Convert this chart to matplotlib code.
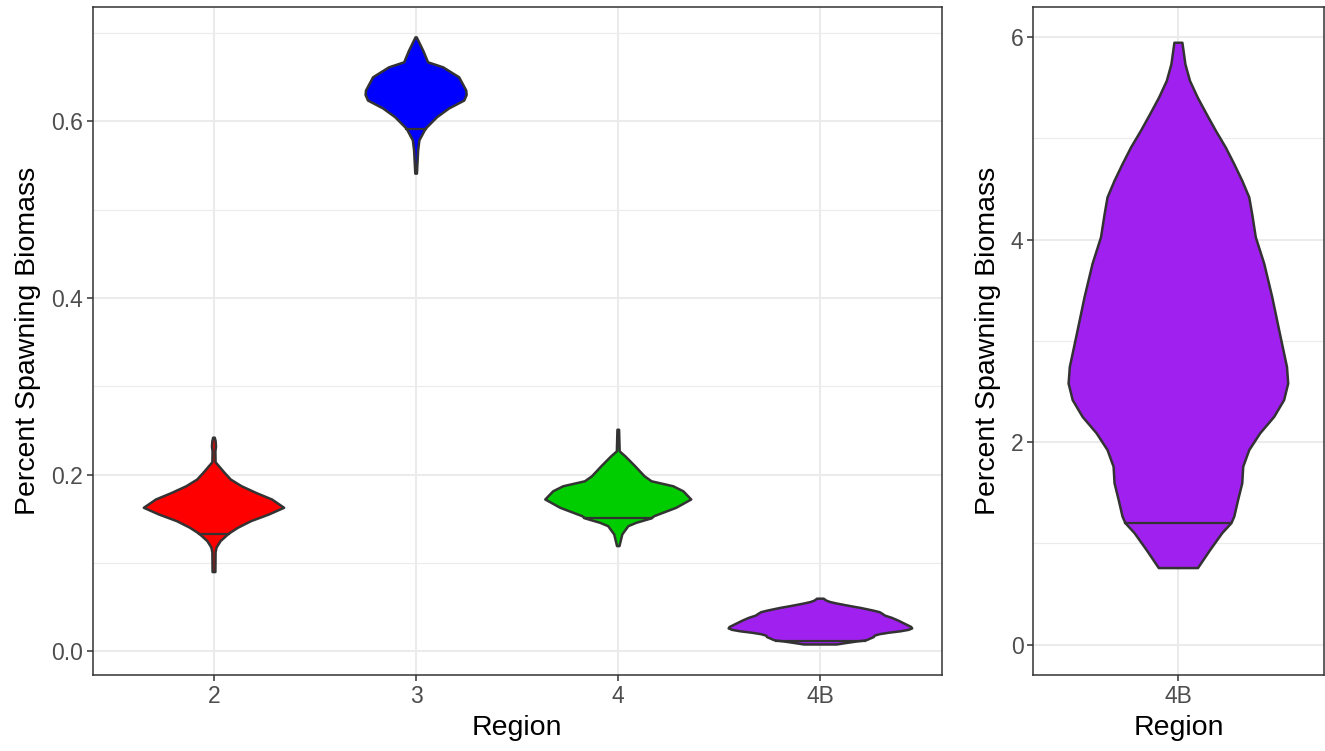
import numpy as np
import matplotlib.pyplot as plt

plt.rcParams["font.family"] = ["Liberation Sans", "DejaVu Sans"]

# Regions and fills
regions = ["2", "3", "4", "4B"]
fills   = ["#FF0000", "#0000FF", "#00CD00", "#A020F0"]

# Violin outlines:
# value (percent spawning biomass) and half width (in category units)
r2_y = [0.0896, 0.112, 0.1175, 0.1247, 0.133, 0.1398, 0.1472, 0.1548, 0.1624,
        0.1718, 0.1793, 0.1868, 0.1944, 0.2019, 0.2094, 0.214, 0.226, 0.232,
        0.238, 0.2418]
r2_w = [0.007, 0.008, 0.013, 0.033, 0.073, 0.119, 0.183, 0.272, 0.347,
        0.287, 0.208, 0.137, 0.083, 0.053, 0.025, 0.008, 0.007, 0.010,
        0.008, 0.004]

r3_y = [0.5409, 0.5672, 0.5785, 0.5918, 0.6049, 0.6147, 0.6237, 0.630, 0.635,
        0.650, 0.6613, 0.667, 0.6802, 0.6952]
r3_w = [0.004, 0.010, 0.016, 0.047, 0.104, 0.163, 0.238, 0.250, 0.248,
        0.213, 0.134, 0.059, 0.035, 0.003]

r4_y = [0.119, 0.1322, 0.1416, 0.1454, 0.1503, 0.1529, 0.1624, 0.1718, 0.1811,
        0.1868, 0.1924, 0.1981, 0.2094, 0.2207, 0.2263, 0.2508]
r4_w = [0.006, 0.020, 0.050, 0.090, 0.163, 0.178, 0.287, 0.361, 0.322,
        0.272, 0.165, 0.130, 0.084, 0.035, 0.007, 0.004]

# 4B (left panel shows the same values / 100)
r4b_y = [0.756, 0.936, 1.100, 1.199, 1.264, 1.429, 1.593, 1.757, 1.921, 2.086,
         2.249, 2.414, 2.578, 2.742, 3.09, 3.432, 3.761, 4.023, 4.253, 4.417,
         4.581, 4.745, 4.909, 5.074, 5.238, 5.402, 5.567, 5.731, 5.944]
r4b_w = [0.081, 0.132, 0.181, 0.219, 0.231, 0.247, 0.264, 0.268, 0.293, 0.338,
         0.396, 0.437, 0.454, 0.449, 0.418, 0.388, 0.355, 0.320, 0.305, 0.293,
         0.264, 0.231, 0.196, 0.155, 0.117, 0.080, 0.048, 0.029, 0.0165]
scale_4b = 100.0

# quantile lines drawn in each violin
q_lines = [0.133, 0.592, 0.151, 0.012]

edge = "#333333"


def draw_violin(ax, x, ys, ws, q, color):
    ys = np.asarray(ys)
    ws = np.asarray(ws)
    xs = np.concatenate([x - ws, (x + ws)[::-1]])
    yy = np.concatenate([ys, ys[::-1]])
    ax.fill(xs, yy, facecolor=color, edgecolor=edge, lw=1.8,
            joinstyle="round", zorder=3)
    hw = np.interp(q, ys, ws)
    ax.plot([x - hw, x + hw], [q, q], color=edge, lw=1.6, zorder=4)


def style_bw(ax, major, minor):
    ax.set_yticks(major)
    ax.set_yticks(minor, minor=True)
    ax.grid(which="major", color="#EBEBEB", lw=1.5, zorder=0)
    ax.grid(which="minor", axis="y", color="#EBEBEB", lw=0.8, zorder=0)
    ax.set_axisbelow(True)
    for sp in ax.spines.values():
        sp.set_color("#333333")
        sp.set_linewidth(1.1)
    ax.tick_params(which="major", colors="#333333", length=4, width=1.1,
                   labelsize=16.5, labelcolor="#4D4D4D", pad=3)
    ax.tick_params(which="minor", length=0)
    ax.set_xlabel("Region", fontsize=20.5, labelpad=5)
    ax.set_ylabel("Percent Spawning Biomass", fontsize=20.5, labelpad=7)


fig = plt.figure(figsize=(13.25, 7.51), dpi=100)
ax1 = fig.add_axes([0.06996, 0.10120, 0.64075, 0.88988])
ax2 = fig.add_axes([0.77985, 0.10120, 0.21902, 0.88988])

profiles = [(r2_y, r2_w), (r3_y, r3_w), (r4_y, r4_w),
            (np.array(r4b_y) / scale_4b, r4b_w)]
for i, (ys, ws) in enumerate(profiles):
    draw_violin(ax1, i + 1, ys, ws, q_lines[i], fills[i])

ax1.set_xlim(0.4, 4.6)
ax1.set_ylim(-0.027, 0.73)
ax1.set_xticks(range(1, 5))
ax1.set_xticklabels(regions)
style_bw(ax1, [0.0, 0.2, 0.4, 0.6], [0.1, 0.3, 0.5, 0.7])
ax1.set_yticklabels(["0.0", "0.2", "0.4", "0.6"])

draw_violin(ax2, 1, r4b_y, r4b_w, q_lines[3] * scale_4b, fills[3])
ax2.set_xlim(0.4, 1.6)
ax2.set_ylim(-0.3, 6.3)
ax2.set_xticks([1])
ax2.set_xticklabels(["4B"])
style_bw(ax2, [0, 2, 4, 6], [1, 3, 5])

fig.savefig("out.png", dpi=100)
